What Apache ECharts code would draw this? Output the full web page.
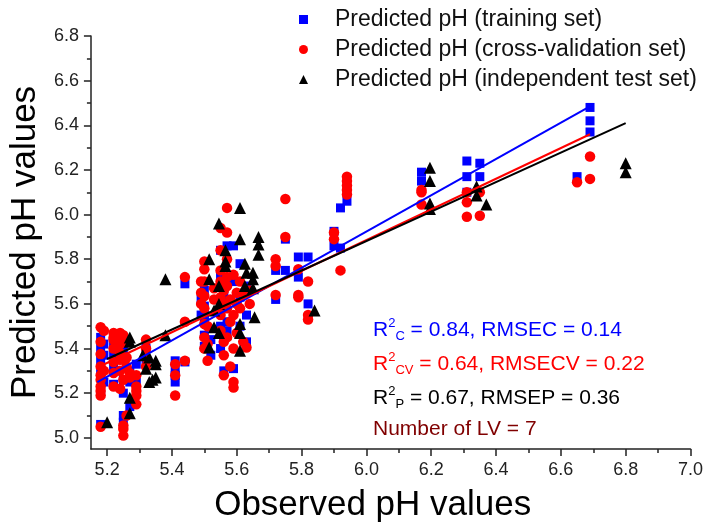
<!DOCTYPE html>
<html>
<head>
<meta charset="utf-8">
<script src="https://cdn.jsdelivr.net/npm/echarts@6/dist/echarts.min.js"></script>
<style>html,body{margin:0;padding:0;background:#fff}#chart{width:706px;height:528px}</style>
</head>
<body>
<div id="chart"></div>
<script>
// ---- Data ----
const seriesNames = ['Predicted pH (training set)', 'Predicted pH (cross-validation set)', 'Predicted pH (independent test set)'];

const trainingSet = [
  [5.18,5.45],[5.18,5.40],[5.18,5.35],[5.18,5.30],[5.18,5.21],[5.18,5.06],
  [5.19,5.42],[5.19,5.37],[5.19,5.25],
  [5.22,5.42],[5.22,5.375],[5.22,5.31],[5.22,5.24],
  [5.25,5.44],[5.25,5.40],[5.25,5.35],[5.25,5.26],[5.25,5.20],[5.25,5.10],[5.25,5.07],
  [5.27,5.30],[5.27,5.25],[5.27,5.14],
  [5.29,5.33],[5.29,5.25],
  [5.32,5.40],[5.32,5.35],
  [5.41,5.345],[5.41,5.31],[5.41,5.28],[5.41,5.25],
  [5.44,5.69],[5.44,5.34],
  [5.49,5.62],[5.49,5.55],
  [5.50,5.66],[5.50,5.59],[5.50,5.55],[5.50,5.52],[5.50,5.46],[5.50,5.41],
  [5.52,5.44],[5.52,5.37],
  [5.55,5.84],[5.55,5.72],[5.55,5.58],[5.55,5.50],[5.55,5.40],
  [5.56,5.65],[5.56,5.45],[5.56,5.30],
  [5.57,5.86],[5.57,5.62],[5.57,5.52],[5.57,5.48],
  [5.59,5.86],[5.59,5.70],[5.59,5.31],
  [5.61,5.78],[5.61,5.63],[5.61,5.50],
  [5.63,5.68],[5.63,5.55],[5.63,5.43],
  [5.72,5.75],[5.72,5.62],
  [5.75,5.89],[5.75,5.75],
  [5.79,5.81],[5.79,5.72],
  [5.82,5.81],[5.82,5.60],
  [5.90,5.925],[5.90,5.86],
  [5.92,6.03],[5.92,5.85],
  [5.94,6.06],
  [6.17,6.19],[6.17,6.15],
  [6.31,6.24],[6.31,6.17],[6.31,6.10],
  [6.35,6.23],[6.35,6.17],
  [6.65,6.17],
  [6.69,6.48],[6.69,6.42],[6.69,6.37]
];

const crossValidationSet = [
  [5.18,5.495],[5.18,5.43],[5.18,5.375],[5.18,5.32],[5.18,5.28],[5.18,5.26],[5.18,5.23],[5.18,5.21],[5.18,5.19],[5.18,5.05],
  [5.19,5.48],[5.19,5.30],
  [5.22,5.47],[5.22,5.45],[5.22,5.44],[5.22,5.40],[5.22,5.34],[5.22,5.29],[5.22,5.23],
  [5.24,5.47],[5.24,5.46],[5.24,5.42],[5.24,5.38],[5.24,5.35],[5.24,5.30],[5.24,5.22],
  [5.25,5.46],[5.25,5.26],[5.25,5.055],[5.25,5.04],[5.25,5.01],
  [5.26,5.43],[5.26,5.36],[5.26,5.32],[5.26,5.10],
  [5.27,5.29],[5.27,5.27],
  [5.29,5.28],[5.29,5.23],[5.29,5.21],[5.29,5.19],[5.29,5.15],
  [5.32,5.44],[5.32,5.40],[5.32,5.36],[5.32,5.32],
  [5.41,5.33],[5.41,5.28],[5.41,5.19],
  [5.44,5.72],[5.44,5.52],[5.44,5.345],
  [5.49,5.70],[5.49,5.65],[5.49,5.60],
  [5.50,5.79],[5.50,5.755],[5.50,5.70],[5.50,5.635],[5.50,5.58],[5.50,5.51],[5.50,5.45],[5.50,5.40],[5.51,5.345],
  [5.51,5.50],[5.51,5.42],
  [5.53,5.67],[5.53,5.62],
  [5.55,5.94],[5.55,5.84],[5.55,5.75],[5.55,5.70],[5.55,5.63],[5.55,5.55],[5.55,5.48],
  [5.56,5.66],[5.56,5.60],[5.56,5.43],[5.56,5.37],[5.56,5.28],
  [5.57,6.03],[5.57,5.92],[5.57,5.80],[5.57,5.72],[5.57,5.68],[5.57,5.58],[5.57,5.45],
  [5.58,5.62],[5.58,5.52],[5.58,5.32],
  [5.59,5.73],[5.59,5.55],[5.59,5.40],[5.59,5.25],[5.59,5.225],
  [5.60,5.65],[5.60,5.60],[5.60,5.47],
  [5.61,5.70],[5.61,5.58],
  [5.62,5.65],[5.62,5.43],
  [5.63,5.405],
  [5.64,5.66],[5.64,5.60],
  [5.72,5.80],[5.72,5.77],[5.72,5.64],
  [5.75,6.07],[5.75,5.90],
  [5.79,5.755],[5.79,5.64],[5.79,5.63],
  [5.82,5.70],[5.82,5.55],[5.82,5.53],
  [5.90,5.92],[5.90,5.89],
  [5.92,5.75],
  [5.94,6.17],[5.94,6.15],[5.94,6.13],[5.94,6.11],[5.94,6.09],
  [6.17,6.11],[6.17,6.10],[6.17,6.045],
  [6.31,6.10],[6.31,6.055],[6.31,5.99],
  [6.35,6.10],[6.35,5.995],
  [6.65,6.145],
  [6.69,6.26],[6.69,6.16]
];

const testSet = [
  [5.20,5.07],[5.27,5.45],[5.27,5.43],[5.27,5.18],[5.27,5.11],
  [5.31,5.37],[5.32,5.31],[5.33,5.36],[5.34,5.26],[5.35,5.345],[5.35,5.33],[5.35,5.27],[5.33,5.25],
  [5.38,5.71],[5.38,5.46],
  [5.515,5.80],[5.515,5.71],[5.515,5.405],
  [5.53,5.57],[5.53,5.495],
  [5.545,5.96],[5.545,5.68],[5.545,5.60],[5.545,5.47],
  [5.565,5.84],[5.565,5.79],[5.565,5.77],
  [5.61,6.03],[5.61,5.89],[5.61,5.51],[5.61,5.47],[5.61,5.39],
  [5.625,5.78],[5.625,5.68],
  [5.63,5.74],
  [5.65,5.74],[5.65,5.71],[5.65,5.67],[5.655,5.54],
  [5.667,5.90],[5.667,5.866],[5.667,5.82],
  [5.84,5.57],
  [6.196,6.21],[6.196,6.15],[6.196,6.05],[6.196,6.025],
  [6.34,6.126],[6.34,6.085],[6.37,6.045],
  [6.80,6.23],[6.80,6.19]
];

// fitted regression lines (endpoints)
const fitTraining = [[5.17,5.25],[6.69,6.485]];
const fitCrossValidation = [[5.17,5.315],[6.69,6.36]];
const fitTest = [[5.20,5.353],[6.80,6.41]];

const xMajorTicks = [5.2,5.4,5.6,5.8,6.0,6.2,6.4,6.6,6.8,7.0];
const xMinorTicks = [5.3,5.5,5.7,5.9,6.1,6.3,6.5,6.7,6.9];
const yMajorTicks = [5.0,5.2,5.4,5.6,5.8,6.0,6.2,6.4,6.6,6.8];
const yMinorTicks = [5.1,5.3,5.5,5.7,5.9,6.1,6.3,6.5,6.7];

const statLines = [
  {pre:'R', sup:'2', sub:'C', rest:' = 0.84, RMSEC = 0.14', color:'#0000FF'},
  {pre:'R', sup:'2', sub:'CV', rest:' = 0.64, RMSECV = 0.22', color:'#FF0000'},
  {pre:'R', sup:'2', sub:'P', rest:' = 0.67, RMSEP = 0.36', color:'#000000'},
  {pre:'Number of LV = 7', sup:'', sub:'', rest:'', color:'#800000'}
];

// ---- Chart ----
const FONT = "'Liberation Sans', Arial, sans-serif";
const axisColor = '#222';
const chart = echarts.init(document.getElementById('chart'));

function mkAxes(isX) {
  const major = isX ? xMajorTicks : yMajorTicks;
  const minor = isX ? xMinorTicks : yMinorTicks;
  const min = isX ? 5.15 : 4.95;
  const max = isX ? 7.0 : 6.8;
  const pos = isX ? 'bottom' : 'left';
  return [{
    type: 'value', min: min, max: max, position: pos,
    axisLine: {show: true, onZero: false, lineStyle: {color: axisColor, width: 1.5}},
    axisTick: {show: true, inside: false, length: 7, customValues: major, lineStyle: {color: axisColor, width: 1.5}},
    axisLabel: {customValues: major, formatter: v => v.toFixed(1), fontFamily: FONT, fontSize: 18, color: '#222', margin: 12},
    splitLine: {show: false},
    name: isX ? 'Observed pH values' : 'Predicted pH values',
    nameLocation: 'middle',
    nameGap: isX ? 39 : 39,
    nameTextStyle: isX ? {fontFamily: FONT, fontSize: 35, color: '#000', padding: [0, 36, 0, 0]}
                       : {fontFamily: FONT, fontSize: 35, color: '#000'}
  }, {
    type: 'value', min: min, max: max, position: pos,
    axisLine: {show: false, onZero: false},
    axisTick: {show: true, inside: false, length: 4, customValues: minor, lineStyle: {color: axisColor, width: 1.5}},
    axisLabel: {show: false},
    splitLine: {show: false}
  }];
}

const graphics = statLines.map((s, i) => {
  const rich = {
    m: {fontFamily: FONT, fontSize: 21, fill: s.color, lineHeight: 26, verticalAlign: 'middle'},
    sp: {fontFamily: FONT, fontSize: 13, fill: s.color, lineHeight: 26, verticalAlign: 'top'},
    sb: {fontFamily: FONT, fontSize: 13, fill: s.color, lineHeight: 26, verticalAlign: 'bottom'}
  };
  let txt = '{m|' + s.pre + '}';
  if (s.sup) txt += '{sp|' + s.sup + '}';
  if (s.sub) txt += '{sb|' + s.sub + '}';
  if (s.rest) txt += '{m|' + s.rest + '}';
  return {
    type: 'text', left: 373, top: 317 + i * 34,
    style: {text: txt, rich: rich, fill: s.color, font: '21px ' + FONT}
  };
});

const option = {
  animation: false,
  backgroundColor: '#fff',
  grid: {left: 87, right: 13, top: 36, bottom: 78, containLabel: false},
  xAxis: mkAxes(true),
  yAxis: mkAxes(false),
  legend: {
    orient: 'vertical', left: 294, top: 3,
    itemWidth: 9, itemHeight: 9, itemGap: 7,
    textStyle: {fontFamily: FONT, fontSize: 23, color: '#111', lineHeight: 23, padding: [0, 0, 0, 22]},
    data: [
      {name: seriesNames[0], icon: 'rect'},
      {name: seriesNames[1], icon: 'circle'},
      {name: seriesNames[2], icon: 'triangle'}
    ]
  },
  graphic: graphics,
  series: [
    {name: seriesNames[0], type: 'scatter', data: trainingSet, symbol: 'rect', symbolSize: 9,
     itemStyle: {color: '#0000FF', opacity: 1}, z: 2},
    {name: seriesNames[1], type: 'scatter', data: crossValidationSet, symbol: 'circle', symbolSize: 10.5,
     itemStyle: {color: '#FF0000', opacity: 1}, z: 3},
    {name: seriesNames[2], type: 'scatter', data: testSet, symbol: 'triangle', symbolSize: 12,
     itemStyle: {color: '#000000', opacity: 1}, z: 4},
    {name: 'fit-training', type: 'line', data: fitTraining, symbol: 'none', silent: true,
     lineStyle: {color: '#0000FF', width: 2}, z: 5},
    {name: 'fit-cv', type: 'line', data: fitCrossValidation, symbol: 'none', silent: true,
     lineStyle: {color: '#FF0000', width: 2}, z: 5},
    {name: 'fit-test', type: 'line', data: fitTest, symbol: 'none', silent: true,
     lineStyle: {color: '#000000', width: 2}, z: 5}
  ]
};
chart.setOption(option);
</script>
</body>
</html>
